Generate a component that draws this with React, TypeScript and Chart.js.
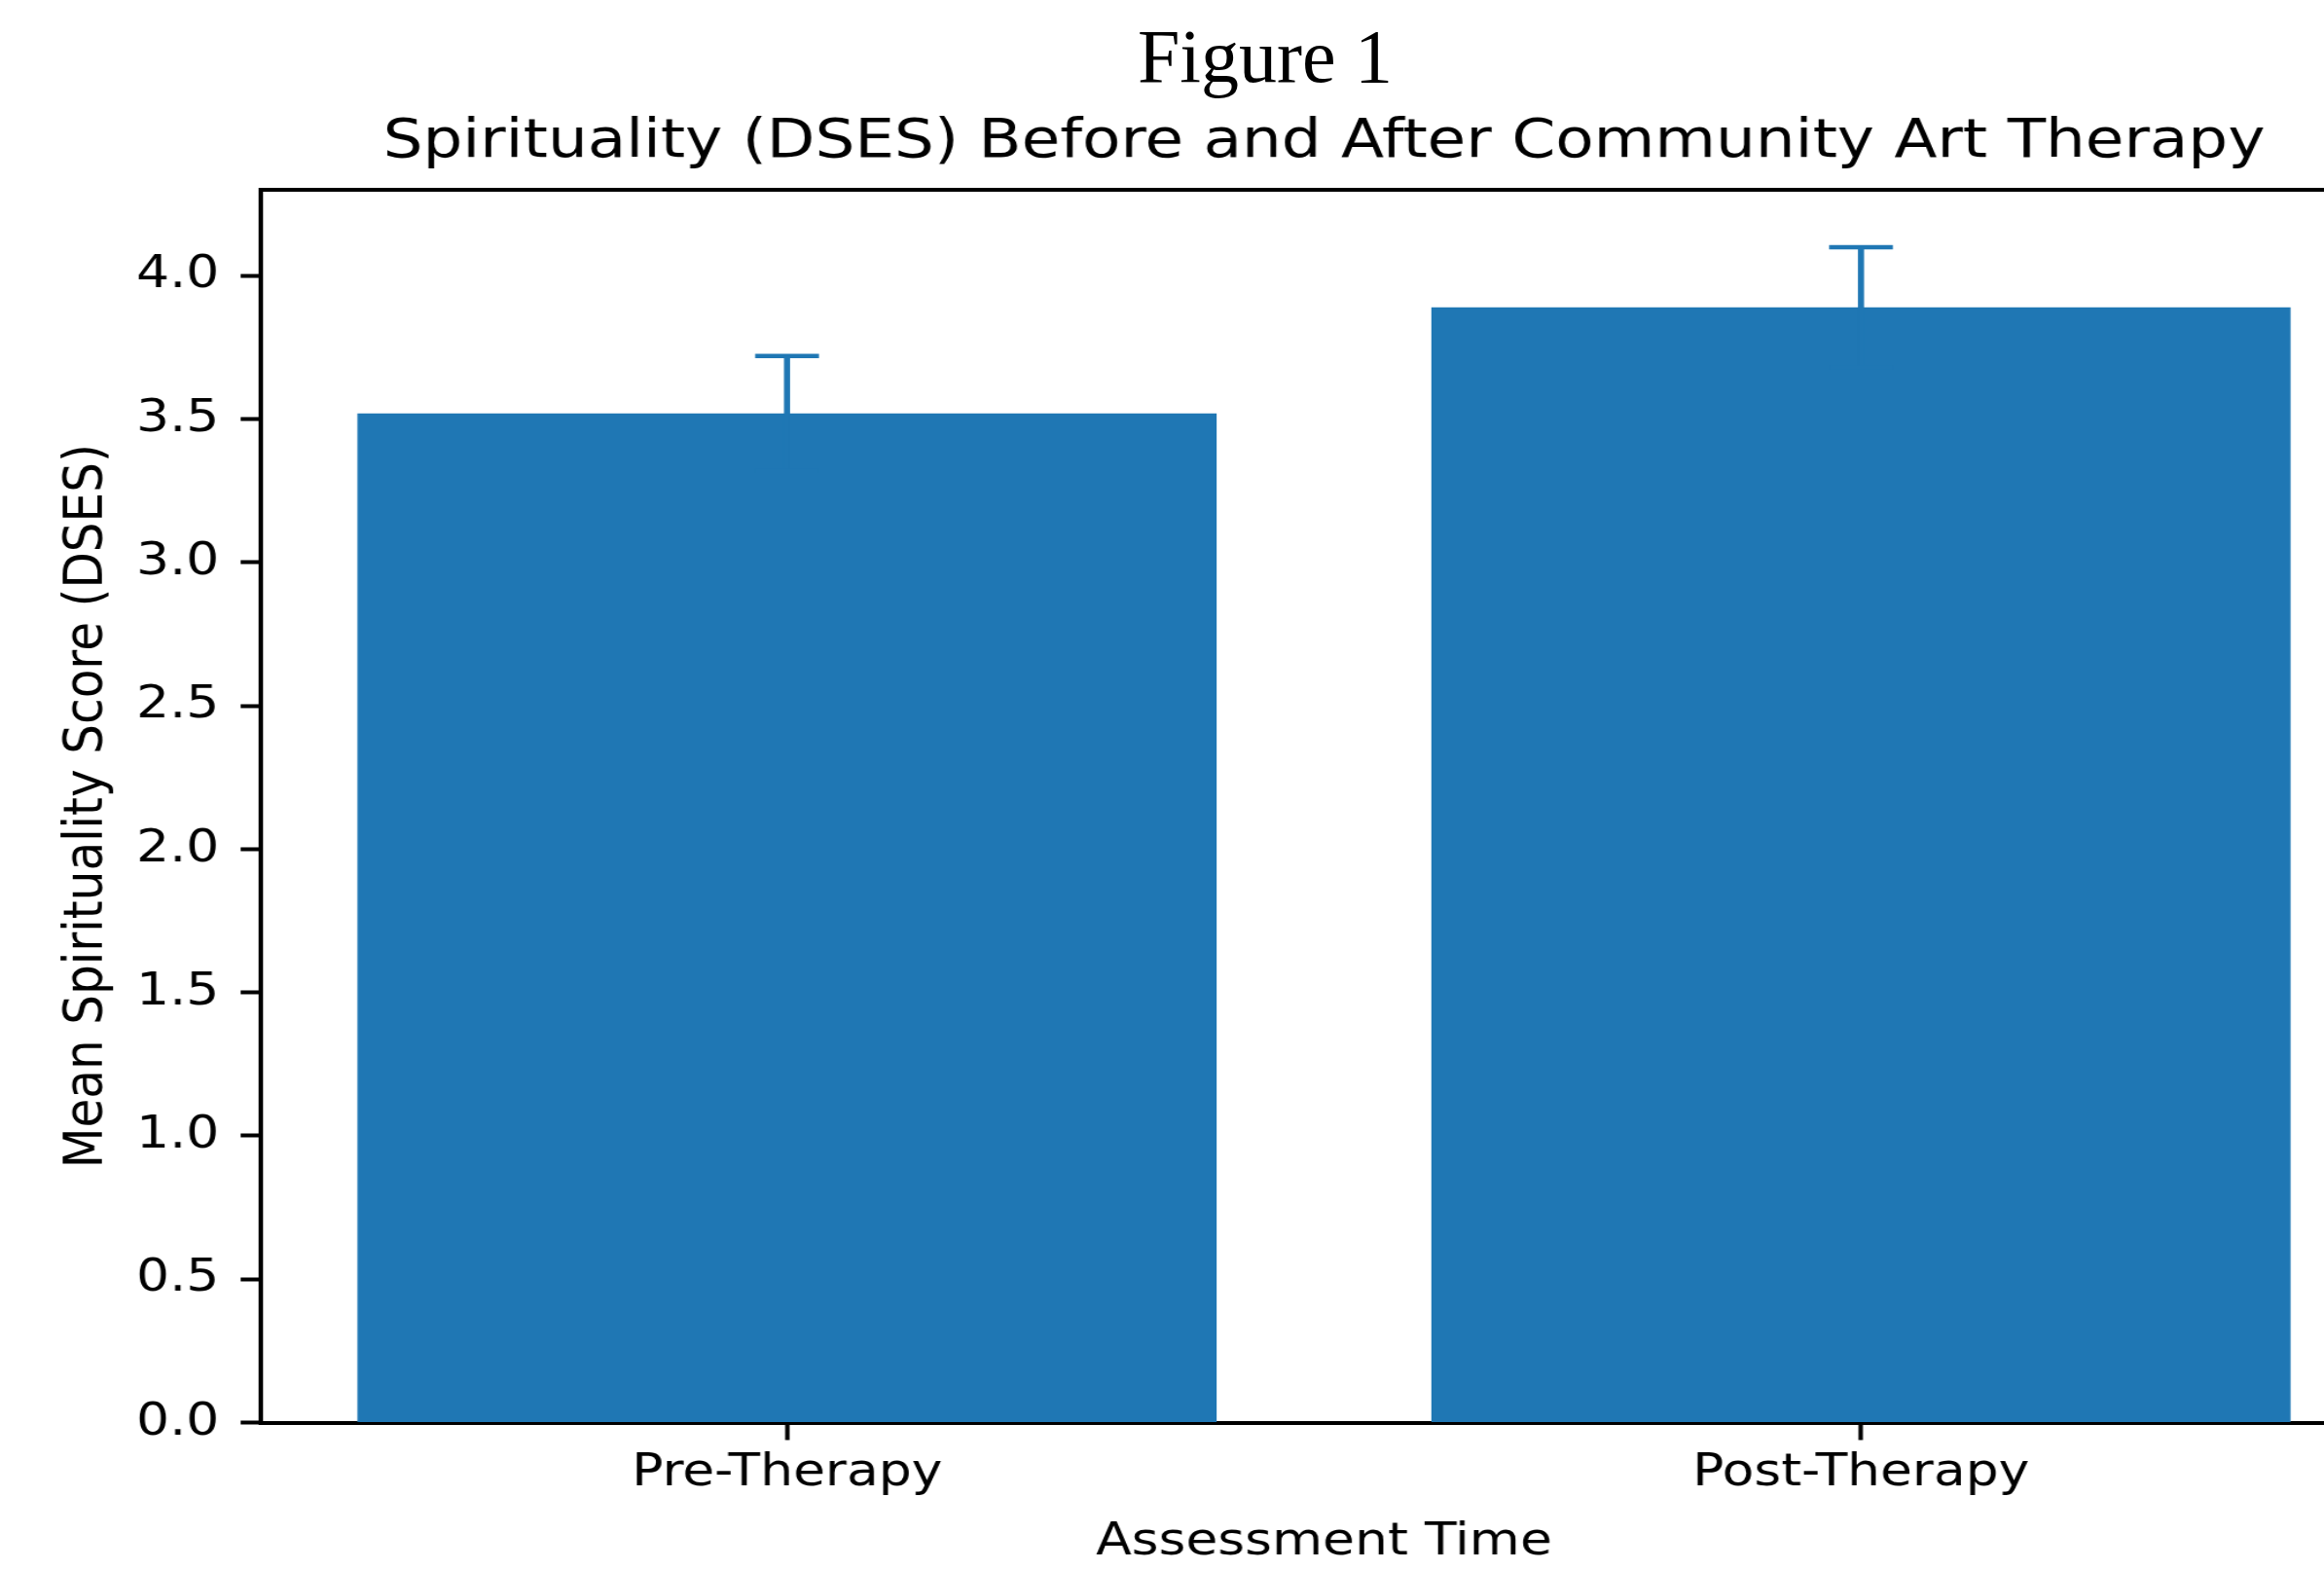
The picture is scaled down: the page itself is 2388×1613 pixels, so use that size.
import React, { useEffect, useRef } from "react";
import { Chart, registerables } from "chart.js";

Chart.register(...registerables);

// ---- data ----
const categories = ["Pre-Therapy", "Post-Therapy"];
const means = [3.52, 3.89];
const errors = [0.2, 0.21];
const yTicks = [0, 0.5, 1, 1.5, 2, 2.5, 3, 3.5, 4];
const chartTitle = "Spirituality (DSES) Before and After Community Art Therapy";
const figureLabel = "Figure 1";
const xTitle = "Assessment Time";
const yTitle = "Mean Spirituality Score (DSES)";

// ---- layout / style ----
const S = 1.15; // horizontal stretch of the original picture
const CW = 2150;
const CH = 1613;
const BAR = "#1f77b4";
const FONT = "'DejaVu Sans'";
const TICK_SIZE = 46.5;

const errorBarPlugin = {
  id: "errorBars",
  afterDatasetsDraw(chart: any) {
    const { ctx } = chart;
    const x = chart.scales.x;
    const y = chart.scales.y;
    ctx.save();
    ctx.strokeStyle = BAR;
    ctx.lineCap = "butt";
    means.forEach((m, i) => {
      const px = x.getPixelForValue(i);
      const top = y.getPixelForValue(m + errors[i]);
      const bot = y.getPixelForValue(m - errors[i]);
      ctx.lineWidth = 5.5;
      ctx.beginPath();
      ctx.moveTo(px, top);
      ctx.lineTo(px, bot);
      ctx.stroke();
      ctx.lineWidth = 4.5;
      [top, bot].forEach((yy) => {
        ctx.beginPath();
        ctx.moveTo(px - 28.5, yy);
        ctx.lineTo(px + 28.5, yy);
        ctx.stroke();
      });
    });
    ctx.restore();
  },
  afterDraw(chart: any) {
    const { ctx, chartArea } = chart;
    ctx.save();
    ctx.strokeStyle = "#000";
    ctx.lineWidth = 4;
    ctx.beginPath();
    ctx.moveTo(chartArea.left - 2, chartArea.top);
    ctx.lineTo(chartArea.right, chartArea.top);
    ctx.lineTo(chartArea.right, chartArea.bottom);
    ctx.stroke();
    ctx.restore();
  },
};

export default function App() {
  const ref = useRef<HTMLCanvasElement | null>(null);

  useEffect(() => {
    if (!ref.current) return;
    const tickGrid = {
      offset: false,
      drawOnChartArea: false,
      drawTicks: true,
      tickLength: 18,
      tickWidth: 4,
      tickColor: "#000",
    };
    const border = { display: true, color: "#000", width: 4 };
    const chart = new Chart(ref.current, {
      type: "bar",
      data: {
        datasets: [
          {
            data: categories.map((_, i) => ({ x: i, y: means[i] })),
            backgroundColor: BAR,
            borderWidth: 0,
            barPercentage: 0.8,
            categoryPercentage: 1.0,
          } as any,
        ],
      },
      options: {
        animation: false,
        responsive: false,
        devicePixelRatio: 1,
        layout: { padding: { left: 0, right: 17, top: 0, bottom: 0 } },
        font: { family: FONT },
        plugins: {
          legend: { display: false },
          tooltip: { enabled: false },
          title: {
            display: true,
            text: chartTitle,
            color: "#000",
            font: { family: FONT, size: 56, weight: "normal", lineHeight: 1.2 },
            padding: { top: 112.5, bottom: 15.3 },
            fullSize: false,
          },
        },
        scales: {
          x: {
            type: "linear",
            min: -0.49,
            max: 1.49,
            offset: false,
            z: 1,
            grid: tickGrid,
            border,
            afterBuildTicks: (s: any) => {
              s.ticks = categories.map((_, i) => ({ value: i }));
            },
            afterFit: (s: any) => {
              s.height = 151.5;
            },
            ticks: {
              autoSkip: false,
              maxRotation: 0,
              padding: 6.5,
              color: "#000",
              font: { family: FONT, size: TICK_SIZE },
              callback: (v: any) => categories[Math.round(Number(v))] ?? "",
            },
            title: {
              display: true,
              text: xTitle,
              color: "#000",
              font: { family: FONT, size: TICK_SIZE },
              padding: { top: 0, bottom: 0.5 },
            },
          },
          y: {
            type: "linear",
            min: 0,
            max: 4.3,
            z: 1,
            grid: tickGrid,
            border,
            afterBuildTicks: (s: any) => {
              s.ticks = yTicks.map((v) => ({ value: v }));
            },
            afterFit: (s: any) => {
              s.width = 233;
            },
            ticks: {
              padding: 19.2,
              color: "#000",
              font: { family: FONT, size: TICK_SIZE },
              callback: (v: any) => Number(v).toFixed(1),
            },
            title: {
              display: true,
              text: yTitle,
              color: "#000",
              font: { family: FONT, size: 48.5 },
              padding: { top: 49.5, bottom: 0 },
            },
          },
        },
      } as any,
      plugins: [errorBarPlugin],
    });
    return () => chart.destroy();
  }, []);

  return (
    <div
      style={{
        position: "absolute",
        left: 0,
        top: 0,
        width: 2388,
        height: CH,
        overflow: "hidden",
        background: "#fff",
      }}
    >
      <div
        style={{
          position: "absolute",
          left: 0,
          top: 0,
          width: CW,
          height: CH,
          transform: `scaleX(${S})`,
          transformOrigin: "0 0",
        }}
      >
        <canvas
          ref={ref}
          width={CW}
          height={CH}
          style={{ display: "block", width: CW, height: CH }}
        />
      </div>
      <div
        style={{
          position: "absolute",
          left: 800,
          top: 18.7,
          width: 1000,
          textAlign: "center",
          fontFamily: "'Liberation Serif', serif",
          fontSize: 78,
          lineHeight: "78px",
          color: "#000",
          whiteSpace: "nowrap",
        }}
      >
        {figureLabel}
      </div>
    </div>
  );
}
